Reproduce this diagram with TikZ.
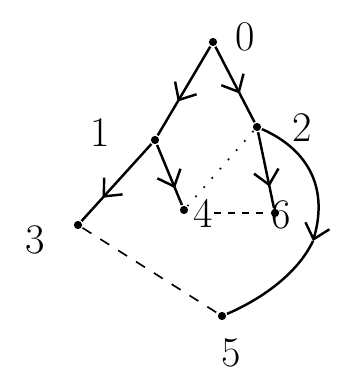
\documentclass[tikz,border=0pt]{standalone}
\usetikzlibrary{arrows.meta,positioning,decorations.markings}

\begin{document}
\begin{tikzpicture}[x=0.03cm,y=0.03cm,line width=2.1pt,
  vtx/.style={circle,fill,inner sep=0pt,minimum size=7pt},
  lbl/.style={font=\fontsize{36}{42}\selectfont,inner sep=0pt},
  mid/.style={postaction={decorate},decoration={markings,
    mark=at position #1 with {\arrow{Straight Barb[length=4.2mm,width=7.5mm]}}}},
  >={Straight Barb[length=4.2mm,width=7.5mm]}]
  \useasboundingbox (0,0) rectangle (350,383);
  % vertices
  \node[vtx] (v0) at (213,341) {};
  \node[vtx] (v1) at (155,243) {};
  \node[vtx] (v2) at (257,256) {};
  \node[vtx] (v3) at (78,158) {};
  \node[vtx] (v4) at (184,173) {};
  \node[vtx] (v6) at (275,170) {};
  \node[vtx] (v5) at (222,67) {};
  % labels
  \node[lbl] (l0) at (245,346) {0};
  \node[lbl] (l1) at (100,250) {1};
  \node[lbl] (l2) at (302,255) {2};
  \node[lbl] (l3) at (35,143) {3};
  \node[lbl] (l4) at (203,170) {4};
  \node[lbl] (l6) at (281,168) {6};
  \node[lbl] (l5) at (231,30) {5};
  \coordinate (bend) at (313,142);
  % tree edges
  \draw[mid=0.62] (v0) -- (v1);
  \draw[mid=0.62] (v0) -- (v2);
  \draw[mid=0.7] (v1) -- (v3);
  \draw[mid=0.72] (v1) -- (v4);
  \draw[mid=0.72] (v2) -- (v6);
  \draw[->] (v2) .. controls (303,236) and (330,200) .. (bend);
  \draw (bend) .. controls (298,110) and (262,84) .. (v5);
  % non-tree edges
  \draw[line width=1.4pt,dash pattern=on 9pt off 9pt] (v3) -- (v5);
  \draw[line width=1.4pt,dash pattern=on 6pt off 6pt] (l4) -- (v6);
  \draw[line width=1.4pt,dash pattern=on 1.5pt off 9pt] (v2) -- (v4);
\end{tikzpicture}
\end{document}
